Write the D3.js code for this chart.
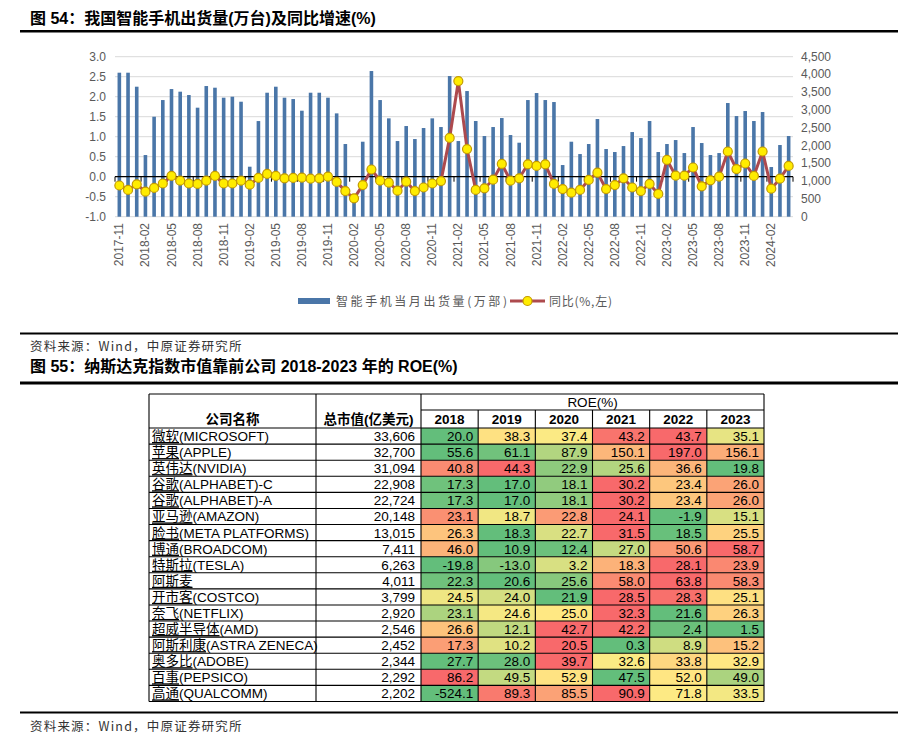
<!DOCTYPE html>
<html>
<head>
<meta charset="utf-8">
<script src="https://d3js.org/d3.v7.min.js"></script>
<style>
body { margin: 0; background: #fff; }
</style>
</head>
<body>
<div id="chart"></div>
<script>
// ---- chart 54 data ----
var months = [
  "2017-11","2017-12",
  "2018-01","2018-02","2018-03","2018-04","2018-05","2018-06","2018-07","2018-08","2018-09","2018-10","2018-11","2018-12",
  "2019-01","2019-02","2019-03","2019-04","2019-05","2019-06","2019-07","2019-08","2019-09","2019-10","2019-11","2019-12",
  "2020-01","2020-02","2020-03","2020-04","2020-05","2020-06","2020-07","2020-08","2020-09","2020-10","2020-11","2020-12",
  "2021-01","2021-02","2021-03","2021-04","2021-05","2021-06","2021-07","2021-08","2021-09","2021-10","2021-11","2021-12",
  "2022-01","2022-02","2022-03","2022-04","2022-05","2022-06","2022-07","2022-08","2022-09","2022-10","2022-11","2022-12",
  "2023-01","2023-02","2023-03","2023-04","2023-05","2023-06","2023-07","2023-08","2023-09","2023-10","2023-11","2023-12",
  "2024-01","2024-02","2024-03","2024-04"
];
// 智能手机当月出货量(万部)
var shipments = [
  4050,4050,
  3656,1734,2812,3281,3590,3516,3422,3066,3675,3628,3347,3375,
  3234,1406,2690,3487,3656,3347,3309,2981,3487,3487,3347,2906,
  2044,640,2109,4097,3281,2766,2128,2550,2184,2494,2766,2522,
  3956,2128,3534,2691,2269,2522,2775,2297,2081,3281,3478,3281,
  3225,1453,2109,1762,2044,2747,1903,1819,1987,2381,2212,2691,
  1819,2044,2156,1790,2522,2072,1734,1790,3197,2831,2972,2691,
  2944,1397,2016,2269
];
// 同比(左轴)
var yoy = [
  -0.22,-0.33,
  -0.19,-0.375,-0.28,-0.17,0.02,-0.10,-0.17,-0.18,-0.10,0.02,-0.17,-0.17,
  -0.10,-0.20,-0.03,0.07,0.02,-0.04,-0.03,-0.025,-0.05,-0.04,0.00,-0.13,
  -0.36,-0.54,-0.21,0.18,-0.10,-0.15,-0.35,-0.125,-0.36,-0.27,-0.17,-0.11,
  0.97,2.39,0.69,-0.33,-0.29,-0.075,0.32,-0.10,-0.04,0.31,0.27,0.31,
  -0.18,-0.31,-0.40,-0.33,-0.08,0.10,-0.31,-0.21,-0.04,-0.27,-0.36,-0.18,
  -0.43,0.42,0.025,0.025,0.23,-0.24,-0.09,0.00,0.63,0.19,0.33,0.02,
  0.63,-0.30,-0.05,0.27
];
var leftTicks = [3.0,2.5,2.0,1.5,1.0,0.5,0.0,-0.5,-1.0];
var rightTicks = [0,500,1000,1500,2000,2500,3000,3500,4000,4500];

// ---- chart 55 data ----
var companies = ["微软(MICROSOFT)","苹果(APPLE)","英伟达(NVIDIA)","谷歌(ALPHABET)-C","谷歌(ALPHABET)-A",
  "亚马逊(AMAZON)","脸书(META PLATFORMS)","博通(BROADCOM)","特斯拉(TESLA)","阿斯麦","开市客(COSTCO)",
  "奈飞(NETFLIX)","超威半导体(AMD)","阿斯利康(ASTRA ZENECA)","奥多比(ADOBE)","百事(PEPSICO)","高通(QUALCOMM)"];
var marketCaps = [33606,32700,31094,22908,22724,20148,13015,7411,6263,4011,3799,2920,2546,2452,2344,2292,2202];
var years = ["2018","2019","2020","2021","2022","2023"];
var roe2018 = [20.0,55.6,40.8,17.3,17.3,23.1,26.3,46.0,-19.8,22.3,24.5,23.1,26.6,17.3,27.7,86.2,-524.1];
var roe2019 = [38.3,61.1,44.3,17.0,17.0,18.7,18.3,10.9,-13.0,20.6,24.0,24.6,12.1,10.2,28.0,49.5,89.3];
var roe2020 = [37.4,87.9,22.9,18.1,18.1,22.8,22.7,12.4,3.2,25.6,21.9,25.0,42.7,20.5,39.7,52.9,85.5];
var roe2021 = [43.2,150.1,25.6,30.2,30.2,24.1,31.5,27.0,18.3,58.0,28.5,32.3,42.2,0.3,32.6,47.5,90.9];
var roe2022 = [43.7,197.0,36.6,23.4,23.4,-1.9,18.5,50.6,28.1,63.8,28.3,21.6,2.4,8.9,33.8,52.0,71.8];
var roe2023 = [35.1,156.1,19.8,26.0,26.0,15.1,25.5,58.7,23.9,58.3,25.1,26.3,1.5,15.2,32.9,49.0,33.5];
var roeByYear = [roe2018,roe2019,roe2020,roe2021,roe2022,roe2023];

var latin = "'Liberation Sans', Arial, 'Noto Sans CJK SC', sans-serif";
var cjk = "'Noto Sans CJK SC', 'Liberation Sans', sans-serif";

// plain hyphen as minus sign, like the source
var loc = d3.formatLocale({decimal: ".", thousands: ",", grouping: [3], currency: ["", ""], minus: "-"});
var f1 = loc.format(".1f");
var fc = loc.format(",");

var svg = d3.select("#chart")
  .append("svg")
    .attr("width", 920)
    .attr("height", 745)
    .style("display", "block");

// ---- headers and rules ----
function heading(y, txt) {
  svg.append("text")
    .attr("x", 30).attr("y", y)
    .attr("font-family", latin)
    .attr("font-size", 16)
    .attr("font-weight", "bold")
    .attr("fill", "#000")
    .text(txt);
}
function rule(y, w) {
  svg.append("line")
    .attr("x1", 20).attr("x2", 898)
    .attr("y1", y).attr("y2", y)
    .attr("stroke", "#000").attr("stroke-width", w);
}
function source(y) {
  svg.append("text")
    .attr("x", 30).attr("y", y)
    .attr("font-family", cjk)
    .attr("font-size", 12.5)
    .attr("letter-spacing", 1.2)
    .attr("fill", "#333")
    .text("资料来源：Wind，中原证券研究所");
}
heading(24, "图 54：我国智能手机出货量(万台)及同比增速(%)");
rule(31.2, 2.4);
rule(333.5, 2.2);
source(351);
heading(372, "图 55：纳斯达克指数市值靠前公司 2018-2023 年的 ROE(%)");
rule(383, 2.8);
rule(712.5, 2.2);
source(731);

// ---- chart 54 ----
var x = d3.scaleBand().domain(months).range([115, 793]);
var yL = d3.scaleLinear().domain([-1, 3]).range([216.7, 56.7]);
var yR = d3.scaleLinear().domain([0, 4500]).range([216.7, 56.7]);
var cx = function(m) { return x(m) + x.bandwidth() / 2; };

var g = svg.append("g");

// grid
g.selectAll("line.grid")
  .data(leftTicks.filter(function(d) { return d !== 0; }))
  .enter().append("line")
    .attr("class", "grid")
    .attr("x1", 115).attr("x2", 793)
    .attr("y1", function(d) { return yL(d); })
    .attr("y2", function(d) { return yL(d); })
    .attr("stroke", "#d9d9d9").attr("stroke-width", 1);

// left axis labels
g.selectAll("text.yl")
  .data(leftTicks)
  .enter().append("text")
    .attr("class", "yl")
    .attr("x", 106)
    .attr("y", function(d) { return yL(d) + 4; })
    .attr("text-anchor", "end")
    .attr("font-family", latin)
    .attr("font-size", 12)
    .attr("fill", "#595959")
    .text(f1);

// right axis labels
g.selectAll("text.yr")
  .data(rightTicks)
  .enter().append("text")
    .attr("class", "yr")
    .attr("x", 801)
    .attr("y", function(d) { return yR(d) + 4; })
    .attr("font-family", latin)
    .attr("font-size", 12)
    .attr("fill", "#595959")
    .text(fc);

// bars
var bw = 3.6;
g.selectAll("rect.bar")
  .data(shipments)
  .enter().append("rect")
    .attr("class", "bar")
    .attr("x", function(d, i) { return cx(months[i]) - bw / 2; })
    .attr("y", function(d) { return yR(d); })
    .attr("width", bw)
    .attr("height", function(d) { return yR(0) - yR(d); })
    .attr("fill", "#4a76a8");

// zero axis + ticks
g.append("line")
  .attr("x1", 115).attr("x2", 793)
  .attr("y1", yL(0)).attr("y2", yL(0))
  .attr("stroke", "#000").attr("stroke-width", 1.2);
var tickPos = months.filter(function(m, i) { return i % 3 === 0; }).map(function(m) { return x(m); });
tickPos.push(793);
g.selectAll("line.tk")
  .data(tickPos)
  .enter().append("line")
    .attr("class", "tk")
    .attr("x1", function(d) { return d; }).attr("x2", function(d) { return d; })
    .attr("y1", yL(0)).attr("y2", yL(0) + 5)
    .attr("stroke", "#000").attr("stroke-width", 1);

// x labels
g.selectAll("text.xl")
  .data(months.filter(function(m, i) { return i % 3 === 0; }))
  .enter().append("text")
    .attr("class", "xl")
    .attr("transform", function(m) { return "translate(" + (cx(m) + 4) + ",223) rotate(-90)"; })
    .attr("text-anchor", "end")
    .attr("font-family", latin)
    .attr("font-size", 12)
    .attr("fill", "#595959")
    .text(function(m) { return m; });

// yoy line
var line = d3.line()
  .x(function(d, i) { return cx(months[i]); })
  .y(function(d) { return yL(d); });
g.append("path")
  .datum(yoy)
  .attr("d", line)
  .attr("fill", "none")
  .attr("stroke", "#ad4a4e")
  .attr("stroke-width", 3)
  .attr("stroke-linejoin", "round");
g.selectAll("circle.mk")
  .data(yoy)
  .enter().append("circle")
    .attr("class", "mk")
    .attr("cx", function(d, i) { return cx(months[i]); })
    .attr("cy", function(d) { return yL(d); })
    .attr("r", 4.5)
    .attr("fill", "#ffec00")
    .attr("stroke", "#c49a00")
    .attr("stroke-width", 1.2);

// legend
svg.append("rect")
  .attr("x", 298).attr("y", 298).attr("width", 32).attr("height", 6)
  .attr("fill", "#4a76a8");
svg.append("text")
  .attr("x", 336).attr("y", 305.5)
  .attr("font-family", cjk).attr("font-size", 12)
  .attr("fill", "#595959")
  .attr("textLength", 171).attr("lengthAdjust", "spacing")
  .text("智能手机当月出货量(万部)");
svg.append("line")
  .attr("x1", 510).attr("x2", 545).attr("y1", 301).attr("y2", 301)
  .attr("stroke", "#ad4a4e").attr("stroke-width", 3);
svg.append("circle")
  .attr("cx", 527.5).attr("cy", 301).attr("r", 4.5)
  .attr("fill", "#ffec00").attr("stroke", "#c49a00").attr("stroke-width", 1.2);
svg.append("text")
  .attr("x", 549).attr("y", 305.5)
  .attr("font-family", cjk).attr("font-size", 12)
  .attr("fill", "#595959")
  .attr("textLength", 63).attr("lengthAdjust", "spacing")
  .text("同比(%,左)");

// ---- table 55 ----
var tTop = 394, hMid = 410, hBot = 428, tBot = 701.5;
var xName = 149, xCap = 316, xYear = 421, xRight = 764;
var col = d3.scaleBand().domain(years).range([xYear, xRight]);
var row = d3.scaleBand().domain(companies).range([hBot, tBot]);
var t = svg.append("g");

// coloured cells, per-row 3-colour scale (green - yellow - red)
companies.forEach(function(c, i) {
  var vals = roeByYear.map(function(a) { return a[i]; });
  var sorted = vals.slice().sort(d3.ascending);
  var color = d3.scaleLinear()
    .domain([sorted[0], d3.quantile(sorted, 0.5), sorted[sorted.length - 1]])
    .range(["#63be7b", "#ffeb84", "#f8696b"]);
  years.forEach(function(yr, j) {
    t.append("rect")
      .attr("x", col(yr)).attr("y", row(c))
      .attr("width", col.bandwidth()).attr("height", row.bandwidth())
      .attr("fill", color(vals[j]));
    t.append("text")
      .attr("x", col(yr) + col.bandwidth() - 5)
      .attr("y", row(c) + 13)
      .attr("text-anchor", "end")
      .attr("font-family", latin).attr("font-size", 13.5)
      .attr("fill", "#000")
      .text(f1(vals[j]));
  });
  var nm = t.append("text")
    .attr("x", xName + 3).attr("y", row(c) + 13)
    .attr("font-family", latin).attr("font-size", 13.5)
    .attr("fill", "#000");
  var k = c.indexOf("(");
  var zh = k < 0 ? c : c.slice(0, k);
  nm.append("tspan").attr("text-decoration", "underline").text(zh);
  if (k >= 0) nm.append("tspan").text(c.slice(k));
  t.append("text")
    .attr("x", xYear - 6)
    .attr("y", row(c) + 13)
    .attr("text-anchor", "end")
    .attr("font-family", latin).attr("font-size", 13.5)
    .attr("fill", "#000")
    .text(fc(marketCaps[i]));
});

// header text
function head(xp, yp, txt, bold) {
  t.append("text")
    .attr("x", xp).attr("y", yp)
    .attr("text-anchor", "middle")
    .attr("font-family", latin).attr("font-size", 13.5)
    .attr("font-weight", bold ? "bold" : "normal")
    .attr("fill", "#000")
    .text(txt);
}
head((xName + xCap) / 2, 424, "公司名称", true);
head((xCap + xYear) / 2, 424, "总市值(亿美元)", true);
head((xYear + xRight) / 2, 407, "ROE(%)", false);
years.forEach(function(yr) { head(col(yr) + col.bandwidth() / 2, 424, yr, true); });

// grid lines
function hl(x1, x2, y) {
  t.append("line").attr("x1", x1).attr("x2", x2).attr("y1", y).attr("y2", y)
    .attr("stroke", "#000").attr("stroke-width", 1.1);
}
function vl(xp, y1, y2) {
  t.append("line").attr("x1", xp).attr("x2", xp).attr("y1", y1).attr("y2", y2)
    .attr("stroke", "#000").attr("stroke-width", 1.1);
}
hl(xName, xRight, tTop);
hl(xYear, xRight, hMid);
hl(xName, xRight, hBot);
companies.forEach(function(c) { hl(xName, xRight, row(c) + row.bandwidth()); });
vl(xName, tTop, tBot);
vl(xCap, tTop, tBot);
vl(xYear, tTop, tBot);
vl(xRight, tTop, tBot);
years.slice(1).forEach(function(yr) { vl(col(yr), hMid, tBot); });
</script>
</body>
</html>
